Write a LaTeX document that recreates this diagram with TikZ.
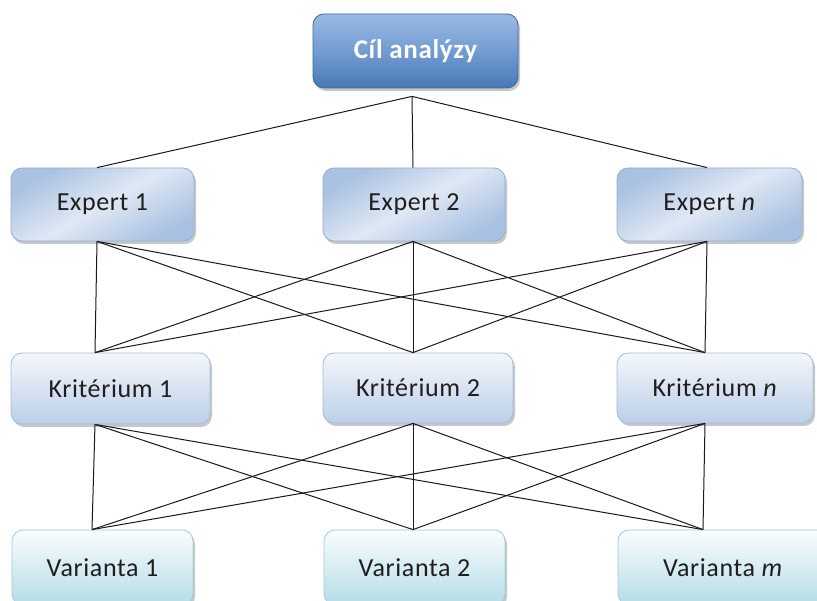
\documentclass[tikz,border=0pt]{standalone}
\usepackage{fontspec}
\setmainfont{Carlito}[LetterSpace=2.5]
\usetikzlibrary{shadows}
\definecolor{txt}{HTML}{1E1E1E}
\definecolor{goalTop}{HTML}{9ABAE3}
\definecolor{goalMid}{HTML}{739CD2}
\definecolor{goalBot}{HTML}{4A78B6}
\definecolor{goalLine}{HTML}{3D679F}
\definecolor{expEdge}{HTML}{A9C1E2}
\definecolor{expMid}{HTML}{E0E8F4}
\definecolor{expLine}{HTML}{93B0D6}
\definecolor{kritTop}{HTML}{F4F7FB}
\definecolor{kritBot}{HTML}{BCCFE9}
\definecolor{kritLine}{HTML}{A3BCDF}
\definecolor{varTop}{HTML}{FBFDFE}
\definecolor{varBot}{HTML}{B3DCE7}
\definecolor{varLine}{HTML}{9ECCD9}
\tikzset{
  box/.style={rounded corners=11pt, inner sep=0pt, text=txt,
    font=\fontsize{26}{30}\selectfont, line width=0.8pt,
    drop shadow={shadow xshift=2pt, shadow yshift=-3pt, opacity=0.22, fill=black}},
  goalbox/.style={box, draw=goalLine, top color=goalTop, bottom color=goalBot,
    middle color=goalMid, text=white, font=\fontsize{27}{30}\selectfont\bfseries},
  expertbox/.style={box, draw=expLine, shading=axis, top color=expEdge,
    bottom color=expEdge, middle color=expMid, shading angle=30},
  kritbox/.style={box, draw=kritLine, top color=kritTop, bottom color=kritBot},
  varbox/.style={box, draw=varLine, top color=varTop, bottom color=varBot},
  link/.style={line width=1pt, draw=black!90}
}
\begin{document}
\begin{tikzpicture}[x=1pt, y=-1pt]
\clip (0,0) rectangle (817,601);
\fill[white] (0,0) rectangle (817,601);

% boxes
\node[goalbox, minimum width=205pt, minimum height=74pt] (cil) at (415.5,51) {Cíl analýzy};

\node[expertbox, minimum width=183pt, minimum height=73pt] (e1) at (102.5,204.5) {Expert 1};
\node[expertbox, minimum width=182pt, minimum height=73pt] (e2) at (414,204.5) {Expert 2};
\node[expertbox, minimum width=185pt, minimum height=73pt] (en) at (709.5,204.5) {Expert \textit{n}};

\node[kritbox, minimum width=199pt, minimum height=71pt] (k1) at (110.5,388.5) {Kritérium 1};
\node[kritbox, minimum width=190pt, minimum height=70pt] (k2) at (418,388) {Kritérium 2};
\node[kritbox, minimum width=196pt, minimum height=70pt] (kn) at (715,388) {Kritérium \textit{n}};

\node[varbox, minimum width=181pt, minimum height=75pt] (v1) at (102.5,567.5) {Varianta 1};
\node[varbox, minimum width=181pt, minimum height=75pt] (v2) at (414.5,567.5) {Varianta 2};
\node[varbox, minimum width=210pt, minimum height=75pt] (vm) at (723,567.5) {Varianta \textit{m}};

% attachment points of the connectors
\coordinate (hub) at ([xshift=-3.5pt, yshift=-8pt]cil.south);
\coordinate (e1t) at ([xshift=-5.5pt]e1.north);
\coordinate (e2t) at ([xshift=-1pt]e2.north);
\coordinate (ent) at ([xshift=-2.5pt]en.north);
\coordinate (e1b) at ([xshift=-5.5pt]e1.south);
\coordinate (e2b) at ([xshift=-1pt]e2.south);
\coordinate (enb) at ([xshift=-2.5pt]en.south);
\coordinate (k1t) at ([xshift=-15.5pt]k1.north);
\coordinate (k2t) at ([xshift=-5pt]k2.north);
\coordinate (knt) at ([xshift=-10pt]kn.north);
\coordinate (k1b) at ([xshift=-15.5pt]k1.south);
\coordinate (k2b) at ([xshift=-5pt]k2.south);
\coordinate (knb) at ([xshift=-10pt]kn.south);
\coordinate (v1t) at ([xshift=-10.5pt]v1.north);
\coordinate (v2t) at ([xshift=-1.5pt]v2.north);
\coordinate (vmt) at ([xshift=-20pt]vm.north);

% goal to experts
\foreach \e in {e1t,e2t,ent} \draw[link] (hub) -- (\e);

% every expert to every criterion
\foreach \e in {e1b,e2b,enb}
  \foreach \k in {k1t,k2t,knt}
    \draw[link] (\e) -- (\k);

% every criterion to every variant
\foreach \k in {k1b,k2b,knb}
  \foreach \v in {v1t,v2t,vmt}
    \draw[link] (\k) -- (\v);
\end{tikzpicture}
\end{document}
